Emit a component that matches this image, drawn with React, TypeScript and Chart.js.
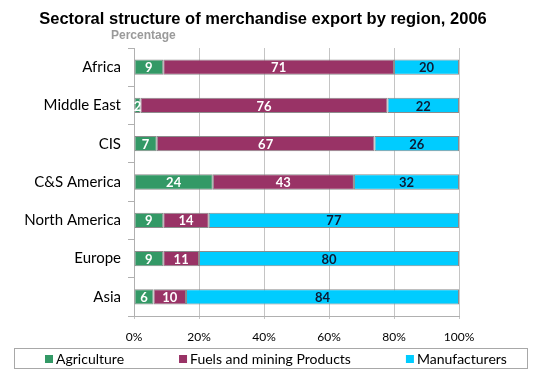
import React, { useEffect, useRef } from "react";
import { Chart, registerables } from "chart.js";

Chart.register(...registerables);

const categories = ["Africa", "Middle East", "CIS", "C&S America", "North America", "Europe", "Asia"];
const agriculture = [9, 2, 7, 24, 9, 9, 6];
const fuels = [71, 76, 67, 43, 14, 11, 10];
const manufacturers = [20, 22, 26, 32, 77, 80, 84];
const seriesNames = ["Agriculture", "Fuels and mining Products", "Manufacturers"];
const seriesColors = ["#339966", "#993366", "#00CCFF"];
const labelColors = ["#ffffff", "#ffffff", "#0d1a33"];
const xTicks = [0, 20, 40, 60, 80, 100];

const TITLE = "Sectoral structure of merchandise export by region, 2006";
const SUBTITLE = "Percentage";

const raw = [agriculture, fuels, manufacturers];
const totals = categories.map((_, i) => raw.reduce((s, arr) => s + arr[i], 0));

const labelPlugin = {
  id: "barLabels",
  afterDatasetsDraw(chart: any) {
    const ctx = chart.ctx;
    ctx.save();
    ctx.font = "bold 13px Lato";
    ctx.textAlign = "center";
    ctx.textBaseline = "middle";
    chart.data.datasets.forEach((ds: any, di: number) => {
      const meta = chart.getDatasetMeta(di);
      meta.data.forEach((el: any, i: number) => {
        const p = el.getProps(["x", "y", "base"], true);
        ctx.fillStyle = labelColors[di];
        ctx.fillText(String(ds.rawValues[i]), (p.x + p.base) / 2, p.y + 1);
      });
    });
    ctx.restore();
  },
};

const decorPlugin = {
  id: "decor",
  afterDraw(chart: any) {
    const ctx = chart.ctx;
    ctx.save();
    // title
    ctx.fillStyle = "#000";
    ctx.font = "bold 16.5px 'Liberation Sans'";
    ctx.textAlign = "center";
    ctx.textBaseline = "middle";
    ctx.fillText(TITLE, 263, 19);
    // subtitle
    ctx.fillStyle = "#9a9a9a";
    ctx.font = "bold 12px 'Liberation Sans'";
    ctx.textAlign = "left";
    ctx.fillText(SUBTITLE, chart.chartArea.left - 23, 36);
    // legend
    ctx.strokeStyle = "#a8a8a8";
    ctx.lineWidth = 1;
    ctx.strokeRect(14.5, 348.5, 513, 20);
    ctx.font = "14px Lato";
    ctx.textBaseline = "middle";
    let x = 45;
    chart.data.datasets.forEach((ds: any) => {
      ctx.fillStyle = ds.backgroundColor;
      ctx.fillRect(x, 355, 8, 8);
      ctx.fillStyle = "#000";
      ctx.fillText(ds.label, x + 11, 359);
      x += 11 + ctx.measureText(ds.label).width + 55;
    });
    ctx.restore();
  },
};

export default function App() {
  const ref = useRef<HTMLCanvasElement>(null);
  useEffect(() => {
    const chart = new Chart(ref.current!, {
      type: "bar",
      data: {
        labels: categories,
        datasets: raw.map((arr, di) => ({
          label: seriesNames[di],
          data: arr.map((v, i) => (v / totals[i]) * 100),
          rawValues: arr,
          backgroundColor: seriesColors[di],
          borderColor: "#8c8c8c",
          borderWidth: 1,
          borderSkipped: false,
          barPercentage: 0.4,
          categoryPercentage: 1,
        })) as any,
      },
      options: {
        indexAxis: "y",
        responsive: false,
        animation: false,
        layout: { padding: { top: 48, left: 0, right: 75, bottom: 0 } },
        plugins: { legend: { display: false }, title: { display: false }, tooltip: { enabled: false } },
        scales: {
          x: {
            stacked: true,
            min: 0,
            max: 100,
            afterBuildTicks: (scale: any) => {
              scale.ticks = xTicks.map((v) => ({ value: v }));
            },
            afterFit: (scale: any) => {
              scale.height = 61;
            },
            ticks: {
              callback: (v: any) => v + "%",
              font: { family: "Lato", size: 12 },
              color: "#000",
              padding: 11,
            },
            grid: { color: "#c4c4c4", tickLength: 3 },
            border: { display: true, color: "#b0b0b0" },
          },
          y: {
            stacked: true,
            afterFit: (scale: any) => {
              scale.width = 134;
            },
            ticks: {
              font: { family: "Lato", size: 15 },
              color: "#000",
              padding: 7,
            },
            grid: { drawOnChartArea: false, offset: true, tickLength: 6, color: "#b0b0b0" },
            border: { display: true, color: "#b0b0b0" },
          },
        },
      },
      plugins: [labelPlugin, decorPlugin],
    });
    return () => chart.destroy();
  }, []);
  return (
    <div style={{ position: "absolute", left: 0, top: 0, width: 534, height: 377, background: "#fff" }}>
      <canvas ref={ref} width={534} height={377} />
    </div>
  );
}
